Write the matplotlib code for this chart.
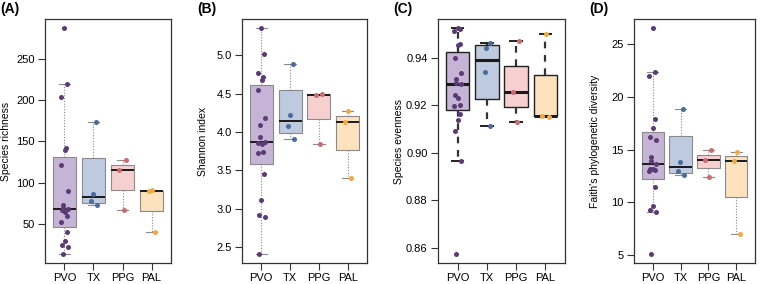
import numpy as np
import matplotlib
matplotlib.use("Agg")
import matplotlib.pyplot as plt

plt.rcParams['font.family'] = ['Liberation Sans', 'DejaVu Sans']

groups = ["PVO", "TX", "PPG", "PAL"]

# (A) species richness
rich_pvo = [287, 219, 204, 142, 140, 122, 90, 73, 70, 68, 67, 65, 60, 53, 41, 30, 25, 23, 14]
rich_tx = [174, 87, 78, 73]
rich_ppg = [127, 115, 67]
rich_pal = [91, 90, 41]

# (B) Shannon index
shan_pvo = [5.351, 5.013, 4.77, 4.718, 4.675, 4.54, 4.185, 4.09, 3.94, 3.87,
            3.855, 3.84, 3.74, 3.725, 3.456, 3.11, 2.92, 2.89, 2.415]
shan_tx = [4.879, 4.215, 4.072, 3.907]
shan_ppg = [4.497, 4.484, 3.842]
shan_pal = [4.276, 4.128, 3.40]

# (C) species evenness
even_pvo = [0.9525, 0.9520, 0.9513, 0.9459, 0.9454, 0.9397, 0.9337, 0.9310, 0.9293, 0.9290,
            0.9241, 0.9232, 0.9200, 0.9197, 0.9163, 0.9138, 0.9090, 0.8966, 0.8573]
even_tx = [0.9462, 0.9442, 0.9339, 0.9111]
even_ppg = [0.9472, 0.9254, 0.9130]
even_pal = [0.9500, 0.9156, 0.9149]

# (D) Faith's phylogenetic diversity
faith_pvo = [26.56, 22.4, 22.05, 17.88, 17.03, 16.25, 15.94, 14.28, 13.91, 13.66,
             13.2, 13.13, 13.07, 13.0, 11.5, 9.7, 9.29, 9.1, 5.1]
faith_tx = [18.85, 13.81, 12.97, 12.6]
faith_ppg = [14.94, 14.0, 12.44]
faith_pal = [14.75, 13.97, 7.0]

point_cols = ["#5b3b74", "#4a6b9b", "#cc6b70", "#f1aa40"]
box_cols = ["#c6b4d6", "#bdcadf", "#f6cfcf", "#fde2bd"]


def fivenum(v):
    x = np.sort(np.asarray(v, dtype=float))
    n = len(x)
    n4 = np.floor((n + 3) / 2) / 2
    d = np.array([1, n4, (n + 1) / 2, n + 1 - n4, n]) - 1
    return 0.5 * (x[np.floor(d).astype(int)] + x[np.ceil(d).astype(int)])


def r_stats(v):
    mn, q1, med, q3, mx = fivenum(v)
    iqr = q3 - q1
    arr = np.asarray(v, dtype=float)
    inside = arr[(arr >= q1 - 1.5 * iqr) & (arr <= q3 + 1.5 * iqr)]
    return dict(med=med, q1=q1, q3=q3, whislo=inside.min(), whishi=inside.max(), fliers=[])


panels = [
    ("(A)", "Species richness", [rich_pvo, rich_tx, rich_ppg, rich_pal], [50, 100, 150, 200, 250], "{:.0f}", 45, 171, False),
    ("(B)", "Shannon index", [shan_pvo, shan_tx, shan_ppg, shan_pal], [2.5, 3.0, 3.5, 4.0, 4.5, 5.0], "{:.1f}", 242, 367, False),
    ("(C)", "Species evenness", [even_pvo, even_tx, even_ppg, even_pal], [0.86, 0.88, 0.90, 0.92, 0.94], "{:.2f}", 438, 565, True),
    ("(D)", "Faith's phylogenetic diversity", [faith_pvo, faith_tx, faith_ppg, faith_pal], [5, 10, 15, 20, 25], "{:.0f}", 634, 755, False),
]

W, H = 760, 284
fig = plt.figure(figsize=(W / 100, H / 100), dpi=100)

for tag, ylab, data, yticks, fmt, x0, x1, bold in panels:
    ax = fig.add_axes([x0 / W, (H - 263) / H, (x1 - x0) / W, 244 / H])
    stats = [r_stats(d) for d in data]
    if bold:
        edge, lw_box, lw_med, wcol, wls, wlw = "#222222", 1.0, 2.2, "#333333", (0, (3, 3)), 1.6
    else:
        edge, lw_box, lw_med, wcol, wls, wlw = "#8a8a8a", 0.8, 1.4, "#8a8a8a", (0, (1, 1.5)), 0.8
    bp = ax.bxp(stats, positions=[1, 2, 3, 4], widths=0.8, patch_artist=True,
                showfliers=False, capwidths=0.4,
                boxprops=dict(edgecolor=edge, linewidth=lw_box),
                whiskerprops=dict(color=wcol, linestyle=wls, linewidth=wlw),
                capprops=dict(color=edge if bold else "#8a8a8a", linewidth=1.4 if bold else 0.8),
                medianprops=dict(color="#1a1a1a", linewidth=lw_med))
    for patch, c in zip(bp["boxes"], box_cols):
        patch.set_facecolor(c)
    for i, (vals, pc) in enumerate(zip(data, point_cols)):
        n = len(vals)
        jit = 0.12 * np.sin(np.arange(n) * 2.3 + i)
        ax.scatter(i + 1 + jit, vals, s=13, color=pc, zorder=5, linewidths=0)
    allv = np.concatenate([np.asarray(d, float) for d in data])
    rng = allv.max() - allv.min()
    ax.set_ylim(allv.min() - 0.04 * rng, allv.max() + 0.04 * rng)
    ax.set_xlim(0.33, 4.67)
    ax.set_xticks([1, 2, 3, 4])
    ax.set_xticklabels(groups, fontsize=8)
    ax.set_yticks(yticks)
    ax.set_yticklabels([fmt.format(t) for t in yticks], fontsize=8)
    ax.set_ylabel(ylab, fontsize=7.5)
    ax.yaxis.set_label_coords(-34 / (x1 - x0), 0.5)
    ax.tick_params(direction="out", length=5, width=0.8, color="#333333", pad=2.5)
    for s in ax.spines.values():
        s.set_color("#333333")
        s.set_linewidth(0.9)
    fig.text((x0 - 45) / W, 1 - 9 / H, tag, fontsize=10, fontweight="bold", va="center")

fig.savefig("out.png", dpi=100)
